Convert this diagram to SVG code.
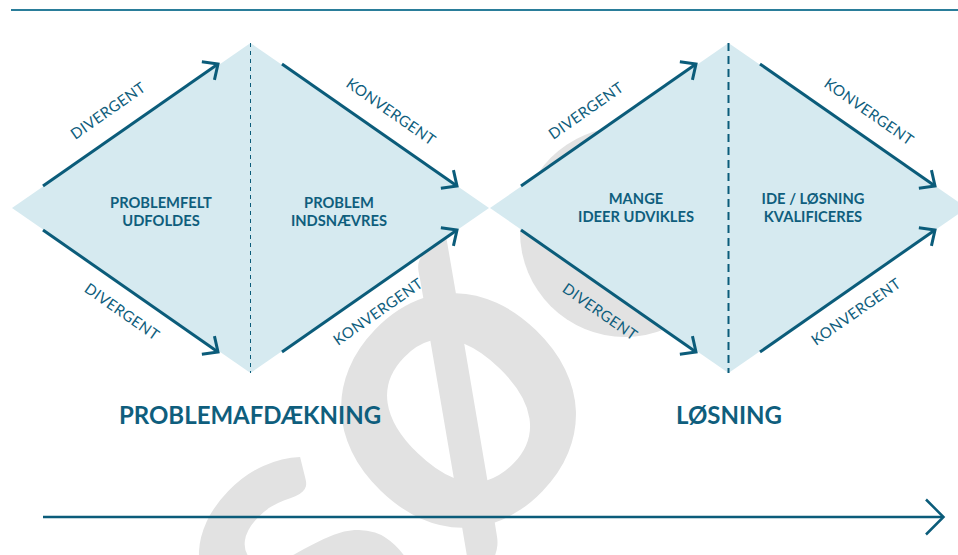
<svg xmlns="http://www.w3.org/2000/svg" width="958" height="555" viewBox="0 0 958 555">
<style>
.wm{fill:#e2e2e2;font-family:Lato,"Noto Sans",sans-serif;font-weight:bold;font-size:440px}
.dia{fill:#d6eaf0}
.arr{fill:none;stroke:#0b5c7a;stroke-width:3;marker-end:url(#chev)}
.lbl{fill:#0f5e7d;font-family:Lato,"Liberation Sans",sans-serif;font-size:15px;text-anchor:middle;letter-spacing:0.4px}
.ctr{fill:#0f5e7d;font-family:Lato,"Liberation Sans",sans-serif;font-size:14.7px;font-weight:bold;text-anchor:middle}
.ttl{fill:#0f5e7d;font-family:Lato,"Liberation Sans",sans-serif;font-size:24px;font-weight:bold;text-anchor:middle}
</style>
<defs>
<marker id="chev" markerUnits="userSpaceOnUse" markerWidth="30" markerHeight="30" viewBox="-15 -15 30 30" refX="0" refY="0" orient="auto" overflow="visible">
<path d="M-12,-11 L0,0 L-12,11" fill="none" stroke="#0b5c7a" stroke-width="3" stroke-linejoin="miter"/>
</marker>
</defs>
<rect width="958" height="555" fill="#ffffff"/>
<g id="watermark">
<text class="wm" transform="translate(322,724) rotate(-46)">s</text>
<text class="wm" transform="translate(452,580) rotate(-46)">ø</text>
<circle cx="625" cy="232" r="105" fill="#e2e2e2"/>
</g>
<line x1="11" y1="10" x2="958" y2="10" stroke="#2a7d9a" stroke-width="2"/>
<g id="diamond1">
<polygon class="dia" points="12,208 250.5,43 489,208 250.5,373"/>
<line x1="250.5" y1="43" x2="250.5" y2="373" stroke="#0b5c7a" stroke-width="1" stroke-dasharray="4 4"/>
<text class="ctr" x="161" y="208">PROBLEMFELT</text>
<text class="ctr" x="161" y="226">UDFOLDES</text>
<text class="ctr" x="339" y="208">PROBLEM</text>
<text class="ctr" x="339" y="226">INDSNÆVRES</text>
</g>
<g id="diamond2">
<polygon class="dia" points="490,208 728.5,43 967,208 728.5,373"/>
<line x1="728.5" y1="43" x2="728.5" y2="373" stroke="#0b5c7a" stroke-width="2" stroke-dasharray="8 5"/>
<text class="ctr" x="636" y="204">MANGE</text>
<text class="ctr" x="636" y="222">IDEER UDVIKLES</text>
<text class="ctr" x="813" y="204">IDE / LØSNING</text>
<text class="ctr" x="813" y="222">KVALIFICERES</text>
</g>
<g id="connectors">
<line class="arr" x1="43" y1="186" x2="218" y2="64"/>
<line class="arr" x1="282" y1="64" x2="457" y2="186"/>
<line class="arr" x1="43" y1="230" x2="218" y2="352"/>
<line class="arr" x1="282" y1="352" x2="457" y2="230"/>
<line class="arr" x1="521" y1="186" x2="696" y2="64"/>
<line class="arr" x1="760" y1="64" x2="935" y2="186"/>
<line class="arr" x1="521" y1="230" x2="696" y2="352"/>
<line class="arr" x1="760" y1="352" x2="935" y2="230"/>
<line x1="43" y1="517" x2="942" y2="517" stroke="#0b5c7a" stroke-width="2.5"/>
<path d="M926,499.5 L943.5,517 L926,534.5" fill="none" stroke="#0b5c7a" stroke-width="2.5"/>
</g>
<g id="labels">
<text class="lbl" transform="translate(111,115) rotate(-34.9)">DIVERGENT</text>
<text class="lbl" transform="translate(388,116) rotate(34.9)">KONVERGENT</text>
<text class="lbl" transform="translate(119,316) rotate(34.9)">DIVERGENT</text>
<text class="lbl" transform="translate(381,316) rotate(-34.9)">KONVERGENT</text>
<text class="lbl" transform="translate(589,115) rotate(-34.9)">DIVERGENT</text>
<text class="lbl" transform="translate(866,116) rotate(34.9)">KONVERGENT</text>
<text class="lbl" transform="translate(597,316) rotate(34.9)">DIVERGENT</text>
<text class="lbl" transform="translate(859,316) rotate(-34.9)">KONVERGENT</text>
</g>
<text class="ttl" x="250" y="424">PROBLEMAFDÆKNING</text>
<text class="ttl" x="729" y="424">LØSNING</text>
</svg>
